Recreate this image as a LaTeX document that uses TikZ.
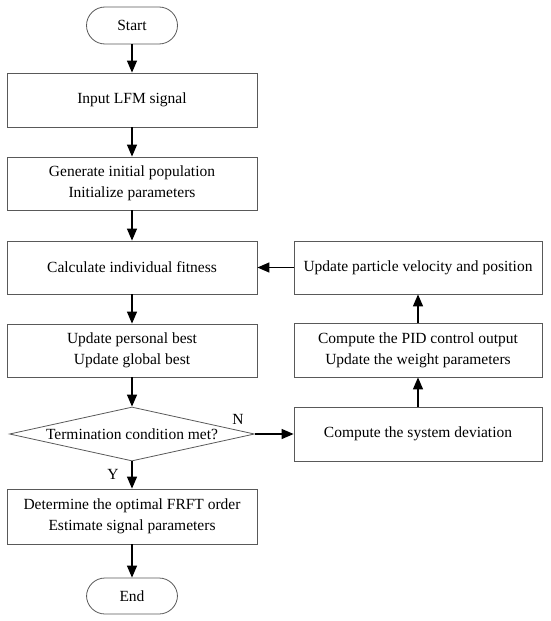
\documentclass[tikz,border=0pt]{standalone}
\usepackage{fontspec}
\setmainfont{Liberation Serif}
\usetikzlibrary{arrows.meta,shapes.geometric}

\begin{document}
\begin{tikzpicture}[x=1pt,y=-1pt,
  font=\fontsize{15.5}{21}\selectfont,
  box/.style={draw=black!65, line width=0.8pt, minimum width=250pt, minimum height=53pt, align=center, inner sep=0pt},
  term/.style={draw=black!65, line width=0.8pt, minimum width=91pt, minimum height=37pt, rounded corners=18.5pt, inner sep=0pt},
  decision/.style={draw=black!65, line width=0.8pt, diamond, minimum width=245pt, minimum height=54pt, inner sep=0pt},
  flow/.style={line width=1.3pt, -{Triangle[length=12pt,width=10pt]}}]
\useasboundingbox (0,0) rectangle (550,621);
% main column
\node[term] (start) at (132,25.5) {Start};
\node[box, minimum height=54pt] (input) at (132,100) {Input LFM signal};
\node[box] (init) at (132,183.5) {Generate initial population\\Initialize parameters};
\node[box] (fit) at (132,267.5) {Calculate individual fitness};
\node[box] (best) at (132,350.5) {Update personal best\\Update global best};
\node[decision, label=center:{Termination condition met?}] (cond) at (132,434) {};
\node[box, minimum height=55pt] (order) at (132,516.5) {Determine the optimal FRFT order\\Estimate signal parameters};
\node[term, minimum height=36pt] (end) at (132,596) {End};
% feedback column
\node[box, minimum width=248pt] (move) at (418,267.5) {Update particle velocity and position};
\node[box, minimum width=248pt, minimum height=54pt] (pid) at (418,350) {Compute the PID control output\\Update the weight parameters};
\node[box, minimum width=248pt, minimum height=54pt] (dev) at (418,434) {Compute the system deviation};
% branch labels
\node (yes) at (113,474) {Y};
\node (no) at (238,419) {N};
\draw[flow] (start) -- (input);
\draw[flow] (input) -- (init);
\draw[flow] (init) -- (fit);
\draw[flow] (fit) -- (best);
\draw[flow] (best) -- (cond);
\draw[flow] (cond) -- (order);
\draw[flow] (order) -- (end);
\draw[flow] (cond.east) -- (dev.west);
\draw[flow] (dev) -- (pid);
\draw[flow] (pid) -- (move);
\draw[flow] (move.west) -- (fit.east);
\end{tikzpicture}
\end{document}
